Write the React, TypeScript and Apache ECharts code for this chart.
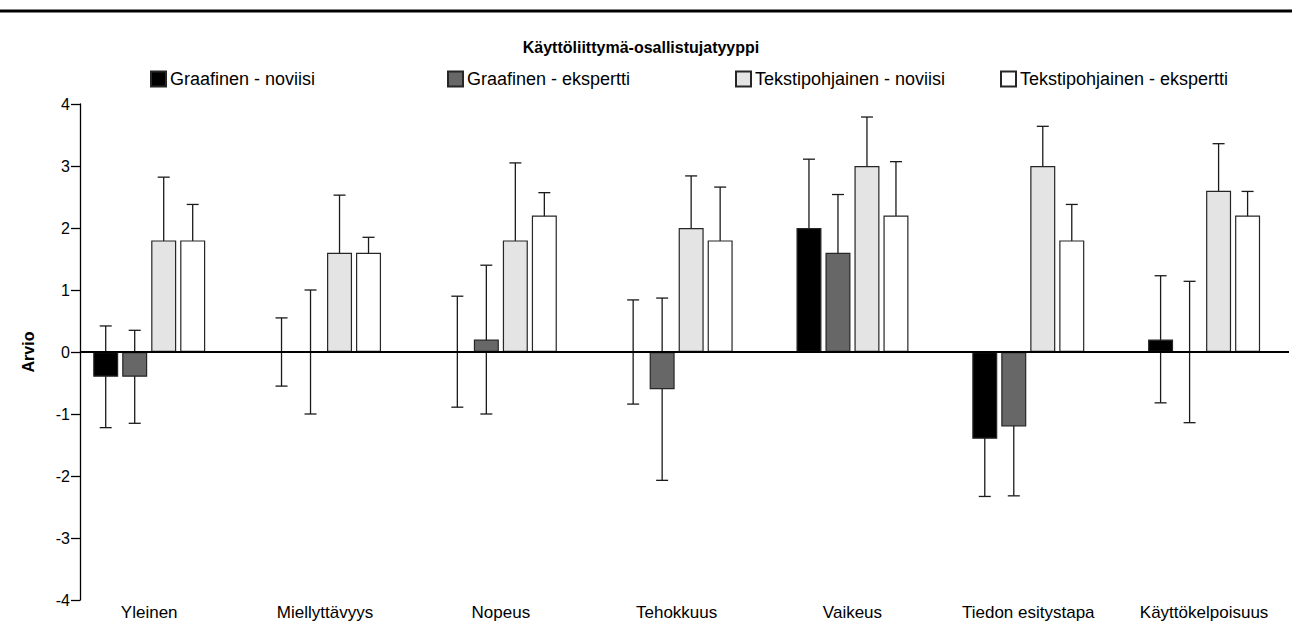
import React, { useEffect, useRef } from "react";
import * as echarts from "echarts";

const categories = ["Yleinen", "Miellyttävyys", "Nopeus", "Tehokkuus", "Vaikeus", "Tiedon esitystapa", "Käyttökelpoisuus"];
const seriesNames = ["Graafinen - noviisi", "Graafinen - ekspertti", "Tekstipohjainen - noviisi", "Tekstipohjainen - ekspertti"];
const yTicks = [-4, -3, -2, -1, 0, 1, 2, 3, 4];

const graafinenNoviisi = [-0.4, 0, 0, 0, 2.0, -1.4, 0.2];
const graafinenNoviisiLow = [-1.22, -0.55, -0.89, -0.84, 0.89, -2.33, -0.82];
const graafinenNoviisiHigh = [0.42, 0.55, 0.9, 0.84, 3.11, -0.47, 1.23];

const graafinenEkspertti = [-0.4, 0, 0.2, -0.6, 1.6, -1.2, 0];
const graafinenEksperttiLow = [-1.15, -1.0, -1.0, -2.07, 0.66, -2.32, -1.14];
const graafinenEksperttiHigh = [0.35, 1.0, 1.4, 0.87, 2.54, -0.08, 1.14];

const tekstiNoviisi = [1.8, 1.6, 1.8, 2.0, 3.0, 3.0, 2.6];
const tekstiNoviisiLow = [0.78, 0.67, 0.55, 1.16, 2.21, 2.36, 1.84];
const tekstiNoviisiHigh = [2.82, 2.53, 3.05, 2.84, 3.79, 3.64, 3.36];

const tekstiEkspertti = [1.8, 1.6, 2.2, 1.8, 2.2, 1.8, 2.2];
const tekstiEksperttiLow = [1.22, 1.35, 1.83, 0.94, 1.33, 1.22, 1.81];
const tekstiEksperttiHigh = [2.38, 1.85, 2.57, 2.66, 3.07, 2.38, 2.59];

const means = [graafinenNoviisi, graafinenEkspertti, tekstiNoviisi, tekstiEkspertti];
const lows = [graafinenNoviisiLow, graafinenEksperttiLow, tekstiNoviisiLow, tekstiEksperttiLow];
const highs = [graafinenNoviisiHigh, graafinenEksperttiHigh, tekstiNoviisiHigh, tekstiEksperttiHigh];

const colors = ["#000000", "#676767", "#e4e4e4", "#ffffff"];
const FONT = '"Liberation Sans", Arial, sans-serif';

const W = 1292;
const H = 636;
const GRID_TOP = 104;
const GRID_H = 496;
const BAND = 176.4;
const GRID_LEFT = 61.3;
const GRID_RIGHT = W - (GRID_LEFT + BAND * categories.length);
const AXIS_X = 80;
const BAR_W = 25;
const BAR_GAP = 4;
const CAP = 12;
const legendLefts = [150, 447, 735, 1000];

export default function App() {
  const ref = useRef<HTMLDivElement>(null);

  useEffect(() => {
    if (!ref.current) return;
    const chart = echarts.init(ref.current, null, { renderer: "svg" });

    const barSeries = seriesNames.map((name, i) => ({
      name,
      type: "bar",
      data: means[i],
      barWidth: BAR_W,
      barGap: (BAR_GAP / BAR_W) * 100 + "%",
      z: 3,
      itemStyle: { color: colors[i], borderColor: "#262626", borderWidth: 1.2 },
    }));

    const errSeries = seriesNames.map((name, i) => ({
      name: "err-" + i,
      type: "custom",
      z: 2,
      data: categories.map((_, k) => [k, lows[i][k], highs[i][k]]),
      renderItem: (params: any, api: any) => {
        const k = api.value(0);
        const lo = api.coord([k, api.value(1)]);
        const hi = api.coord([k, api.value(2)]);
        const x = lo[0] + (i - 1.5) * (BAR_W + BAR_GAP);
        const style = { stroke: "#1a1a1a", lineWidth: 1.3 };
        return {
          type: "group",
          children: [
            { type: "line", shape: { x1: x, y1: lo[1], x2: x, y2: hi[1] }, style },
            { type: "line", shape: { x1: x - CAP / 2, y1: lo[1], x2: x + CAP / 2, y2: lo[1] }, style },
            { type: "line", shape: { x1: x - CAP / 2, y1: hi[1], x2: x + CAP / 2, y2: hi[1] }, style },
          ],
        };
      },
    }));

    const zeroY = GRID_TOP + GRID_H / 2;

    chart.setOption({
      animation: false,
      backgroundColor: "#ffffff",
      textStyle: { fontFamily: FONT },
      grid: { left: GRID_LEFT, right: GRID_RIGHT, top: GRID_TOP, height: GRID_H, containLabel: false },
      legend: seriesNames.map((name, i) => ({
        data: [name],
        left: legendLefts[i],
        top: 70,
        padding: 0,
        itemWidth: 15,
        itemHeight: 15,
        itemGap: 4,
        icon: "rect",
        selectedMode: false,
        textStyle: { fontSize: 18, color: "#000", fontFamily: FONT, padding: [0, 0, 0, -1] },
      })),
      xAxis: {
        type: "category",
        data: categories,
        axisLine: { show: false },
        axisTick: { show: false },
        axisLabel: { color: "#000", fontSize: 17, fontFamily: FONT, margin: 4, interval: 0 },
        splitLine: { show: false },
      },
      yAxis: {
        type: "value",
        min: yTicks[0],
        max: yTicks[yTicks.length - 1],
        interval: 1,
        offset: GRID_LEFT - AXIS_X,
        name: "Arvio",
        nameLocation: "middle",
        nameGap: 44,
        nameTextStyle: { fontWeight: "bold", fontSize: 16, color: "#000", fontFamily: FONT },
        axisLine: { show: true, lineStyle: { color: "#000", width: 1.3 } },
        axisTick: { show: true, inside: false, length: 9, lineStyle: { color: "#000", width: 1.3 } },
        axisLabel: { color: "#000", fontSize: 16, fontFamily: FONT, margin: 10 },
        splitLine: { show: false },
      },
      graphic: [
        {
          type: "line",
          z: 100,
          shape: { x1: 0, y1: 11, x2: W, y2: 11 },
          style: { stroke: "#000", lineWidth: 3 },
        },
        {
          type: "line",
          z: 100,
          shape: { x1: AXIS_X, y1: zeroY, x2: 1289, y2: zeroY },
          style: { stroke: "#000", lineWidth: 2.2 },
        },
        {
          type: "text",
          x: 641,
          y: 47,
          style: {
            text: "Käyttöliittymä-osallistujatyyppi",
            font: 'bold 16px "Liberation Sans", Arial, sans-serif',
            fill: "#000",
            textAlign: "center",
            textVerticalAlign: "middle",
          },
        },
      ],
      series: [...errSeries, ...barSeries],
    });

    return () => chart.dispose();
  }, []);

  return <div ref={ref} style={{ position: "fixed", left: 0, top: 0, width: W, height: H }} />;
}
